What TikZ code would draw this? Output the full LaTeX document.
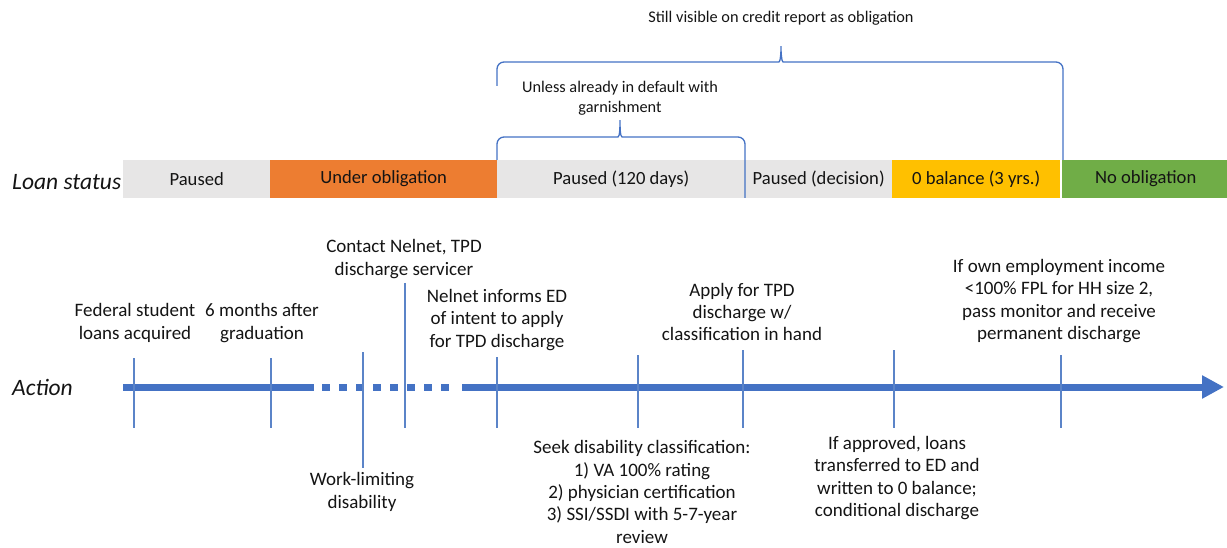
\documentclass[tikz,border=0pt]{standalone}
\usepackage{fontspec}
\setmainfont{Carlito}
\usetikzlibrary{arrows.meta}
\definecolor{bgray}{HTML}{E7E6E6}
\definecolor{borange}{HTML}{ED7D31}
\definecolor{byellow}{HTML}{FFC000}
\definecolor{bgreen}{HTML}{70AD47}
\definecolor{lblue}{HTML}{4472C4}
\definecolor{tickc}{HTML}{5B84C8}
\definecolor{txt}{HTML}{141414}
\begin{document}
\begin{tikzpicture}[x=1pt,y=-1pt,
  seg/.style={draw=none, minimum height=38pt, inner sep=0pt, anchor=west, font=\fontsize{18.6}{22}\selectfont, text=txt},
  lbl/.style={align=center, inner sep=0pt, font=\fontsize{19}{22.3}\selectfont, text=txt},
  toplbl/.style={align=center, inner sep=0pt, font=\fontsize{16.3}{20}\selectfont, text=txt},
  side/.style={anchor=west, inner sep=0pt, font=\fontsize{23.5}{26}\selectfont\itshape, text=txt},
  tickline/.style={draw=tickc, line width=1.3pt},
  bracel/.style={draw=lblue, line width=1.3pt, rounded corners=7pt},
  axis/.style={draw=lblue, line width=7pt}
]
\useasboundingbox (0,0) rectangle (1227,548);

% Loan status bar
\node[side] (ls) at (12,182) {Loan status};
\node[seg, fill=bgray, minimum width=147pt] (s1) at (123,179) {Paused};
\node[seg, fill=borange, minimum width=227pt] (s2) at (270,179) {Under obligation};
\node[seg, fill=bgray, minimum width=248pt] (s3) at (497,179) {Paused (120 days)};
\node[seg, fill=bgray, minimum width=147pt] (s4) at (745,179) {Paused (decision)};
\node[seg, fill=byellow, minimum width=168pt] (s5) at (892,179) {0 balance (3 yrs.)};
\node[seg, fill=bgreen, minimum width=167pt] (s6) at (1062,179) {No obligation};

% Top labels and braces
\node[toplbl] (t1) at (781,18) {Still visible on credit report as obligation};
\node[toplbl] (t2) at (620,98) {Unless already in default with\\garnishment};

\coordinate (ob1) at (497,86);
\coordinate (ob2) at (1063,160);
\coordinate (ib1) at (497,160);
\coordinate (ib2) at (745,198);
\draw[bracel] (ob1) -- (497,62) -- (772,62) to[out=0,in=-90] (781,42) to[out=-90,in=180] (790,62) -- (1063,62) -- (ob2);
\draw[bracel] (ib1) -- (497,137) -- (611,137) to[out=0,in=-90] (620,116) to[out=-90,in=180] (629,137) -- (745,137) -- (ib2);

% Action axis
\node[side] (act) at (12,387) {Action};
\coordinate (a0) at (123,387);
\coordinate (a1) at (314,387);
\coordinate (d0) at (322,387);
\coordinate (d1) at (450,387);
\coordinate (a2) at (462,387);
\coordinate (a3) at (1224,387);
\draw[axis] (a0) -- (a1);
\draw[axis, dash pattern=on 8pt off 9pt] (d0) -- (d1);
\draw[axis, -{Triangle[length=22pt,width=22pt]}] (a2) -- (a3);

% Ticks
\foreach \n/\x/\ya/\yb in {k1/134/358/428, k2/271/358/428, k3/363/352/468, k4/405/283/428, k5/497/357/428, k6/638/355/428, k7/743/350/428, k8/894/350/428, k9/1061/355/428}{
  \coordinate (\n t) at (\x,\ya);
  \coordinate (\n b) at (\x,\yb);
  \draw[tickline] (\n t) -- (\n b);
}

% Timeline labels
\node[lbl] (l1) at (135,323) {Federal student\\loans acquired};
\node[lbl] (l2) at (262,323) {6 months after\\graduation};
\node[lbl] (l3) at (404,259) {Contact Nelnet, TPD\\discharge servicer};
\node[lbl] (l4) at (497,320) {Nelnet informs ED\\of intent to apply\\for TPD discharge};
\node[lbl] (l5) at (742,312) {Apply for TPD\\discharge w/\\classification in hand};
\node[lbl] (l6) at (1059,301) {If own employment income\\<100\% FPL for HH size 2,\\pass monitor and receive\\permanent discharge};
\node[lbl] (l7) at (362,492) {Work-limiting\\disability};
\node[lbl] (l8) at (642,492) {Seek disability classification:\\1) VA 100\% rating\\2) physician certification\\3) SSI/SSDI with 5-7-year\\review};
\node[lbl] (l9) at (897,478) {If approved, loans\\transferred to ED and\\written to 0 balance;\\conditional discharge};
\end{tikzpicture}
\end{document}
